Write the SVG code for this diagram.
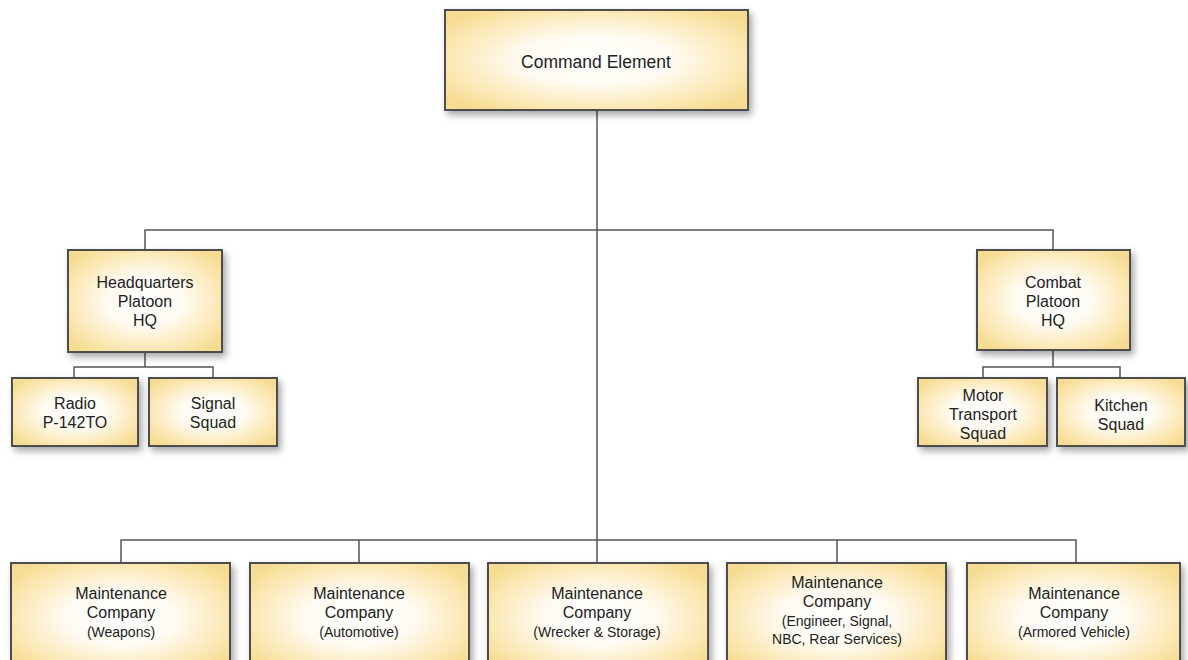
<svg xmlns="http://www.w3.org/2000/svg" width="1188" height="660" viewBox="0 0 1188 660">
<style>
.box{fill:url(#g);stroke:#4d4d4d;stroke-width:2;filter:url(#sh)}
.t{font-family:"Liberation Sans","Open Sans",sans-serif;font-size:16px;fill:#222;text-anchor:middle}
.s{font-size:14px}
.c{fill:none;stroke:#555;stroke-width:1.5}
</style>
<defs>
<radialGradient id="g" cx="0.5" cy="0.5" r="0.62">
<stop offset="0" stop-color="#ffffff"/>
<stop offset="0.4" stop-color="#fffbf2"/>
<stop offset="0.8" stop-color="#fbe7b2"/>
<stop offset="1" stop-color="#f6dc92"/>
</radialGradient>
<filter id="sh" x="-10%" y="-10%" width="125%" height="130%">
<feDropShadow dx="3" dy="4" stdDeviation="3.5" flood-color="#000" flood-opacity="0.35"/>
</filter>
</defs>
<g id="connectors">
<path class="c" d="M597 111V563"/>
<path class="c" d="M145 250V230H1053V250"/>
<path class="c" d="M145 352V367M74 378V367H213V378"/>
<path class="c" d="M1053 350V367M983 378V367H1120V378"/>
<path class="c" d="M121 563V540H1076V563M359 540V563M837 540V563"/>
</g>
<g id="command"><rect class="box" x="445" y="10" width="303" height="100"/><text class="t" x="596" y="68" style="font-size:17.5px">Command Element</text></g>
<g id="hq"><rect class="box" x="68" y="250" width="154" height="102"/><text class="t" x="145" y="288">Headquarters</text><text class="t" x="145" y="307">Platoon</text><text class="t" x="145" y="326">HQ</text></g>
<g id="radio"><rect class="box" x="12" y="378" width="126" height="68"/><text class="t" x="75" y="409">Radio</text><text class="t" x="75" y="428">P-142TO</text></g>
<g id="signal"><rect class="box" x="149" y="378" width="128" height="68"/><text class="t" x="213" y="409">Signal</text><text class="t" x="213" y="428">Squad</text></g>
<g id="combat"><rect class="box" x="977" y="250" width="153" height="100"/><text class="t" x="1053" y="288">Combat</text><text class="t" x="1053" y="307">Platoon</text><text class="t" x="1053" y="326">HQ</text></g>
<g id="motor"><rect class="box" x="918" y="378" width="129" height="68"/><text class="t" x="983" y="401">Motor</text><text class="t" x="983" y="420">Transport</text><text class="t" x="983" y="439">Squad</text></g>
<g id="kitchen"><rect class="box" x="1057" y="378" width="128" height="68"/><text class="t" x="1121" y="411">Kitchen</text><text class="t" x="1121" y="430">Squad</text></g>
<g id="mc1"><rect class="box" x="11" y="563" width="219" height="110"/><text class="t" x="121" y="599">Maintenance</text><text class="t" x="121" y="618">Company</text><text class="t s" x="121" y="637">(Weapons)</text></g>
<g id="mc2"><rect class="box" x="250" y="563" width="219" height="110"/><text class="t" x="359" y="599">Maintenance</text><text class="t" x="359" y="618">Company</text><text class="t s" x="359" y="637">(Automotive)</text></g>
<g id="mc3"><rect class="box" x="488" y="563" width="220" height="110"/><text class="t" x="597" y="599">Maintenance</text><text class="t" x="597" y="618">Company</text><text class="t s" x="597" y="637">(Wrecker &amp; Storage)</text></g>
<g id="mc4"><rect class="box" x="727" y="563" width="219" height="110"/><text class="t" x="837" y="588">Maintenance</text><text class="t" x="837" y="607">Company</text><text class="t s" x="837" y="626">(Engineer, Signal,</text><text class="t s" x="837" y="644">NBC, Rear Services)</text></g>
<g id="mc5"><rect class="box" x="967" y="563" width="213" height="110"/><text class="t" x="1074" y="599">Maintenance</text><text class="t" x="1074" y="618">Company</text><text class="t s" x="1074" y="637">(Armored Vehicle)</text></g>
</svg>
